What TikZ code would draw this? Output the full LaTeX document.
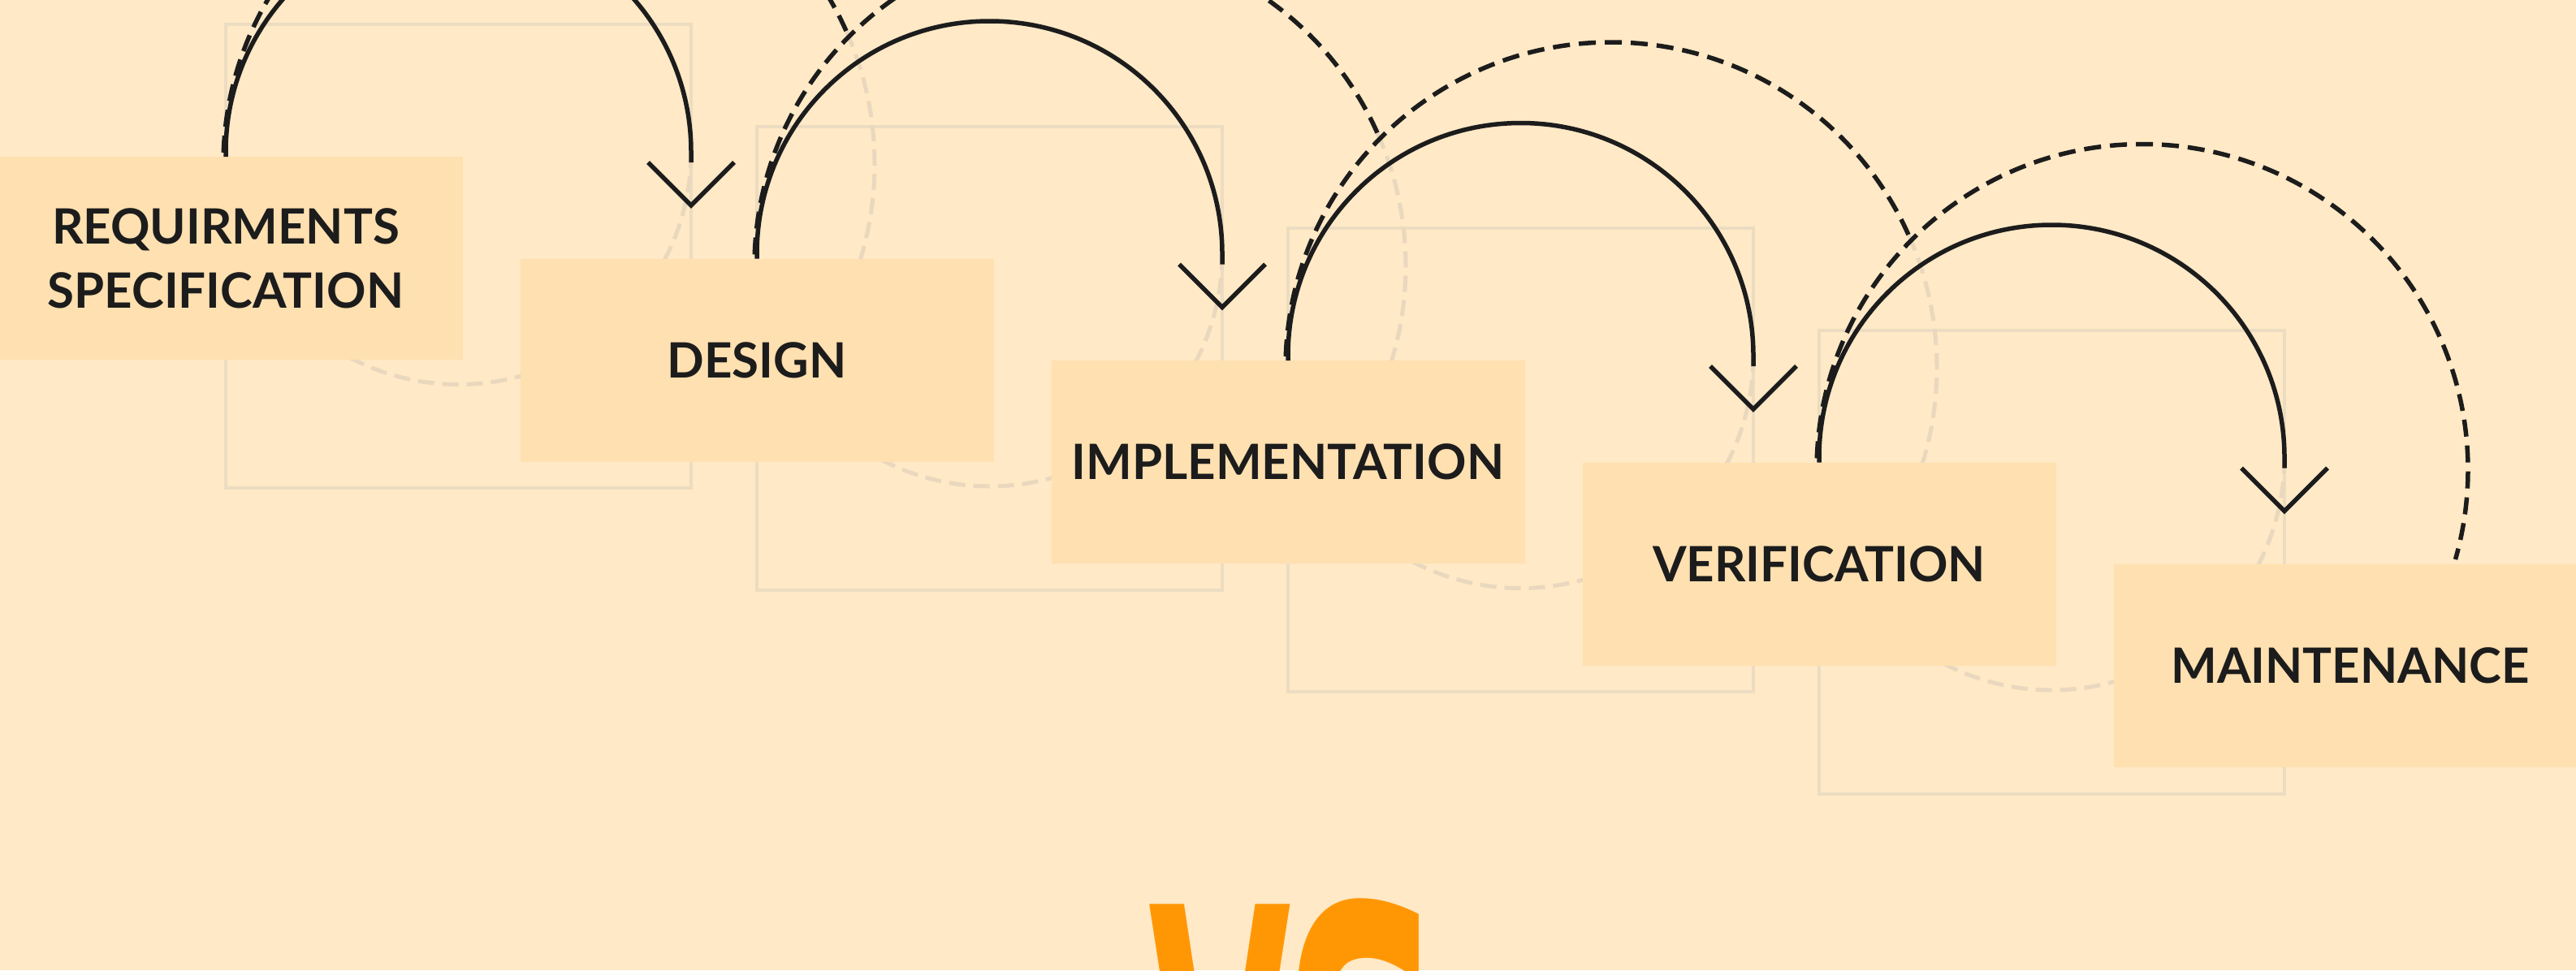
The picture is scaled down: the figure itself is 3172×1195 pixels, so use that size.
\documentclass[tikz,border=0pt]{standalone}
\usepackage{fontspec}
\usepackage{graphicx}
\setmainfont{Lato}
\newfontfamily\vsfont{DejaVu Sans}
\definecolor{bgc}{RGB}{255,233,198}
\definecolor{boxc}{RGB}{255,224,176}
\definecolor{sqc}{RGB}{236,220,193}
\definecolor{gdc}{RGB}{233,216,190}
\definecolor{inkc}{RGB}{28,28,28}
\definecolor{vsc}{RGB}{255,151,5}
\begin{document}
\begin{tikzpicture}[x=1pt,y=1pt,
  stage/.style={fill=boxc, draw=none, minimum width=583pt, minimum height=250pt,
    inner sep=0pt, outer sep=0pt, text=inkc, font=\bfseries\fontsize{60}{79}\selectfont},
  oneline/.style={text height=43pt, text depth=0pt},
  sq/.style={draw=sqc, line width=4pt},
  gdash/.style={draw=gdc, line width=5pt, dash pattern=on 20pt off 10pt},
  flow/.style={draw=inkc, line width=5.5pt, line join=miter},
  loopline/.style={draw=inkc, line width=5.5pt, dash pattern=on 21pt off 11pt},
]
\fill[bgc] (0,0) rectangle (3172,-1195);
\useasboundingbox (0,0) rectangle (3172,-1195);

% background squares
\foreach \k in {0,1,2,3}{
  \draw[sq] ({278+654*\k},{-30-125.5*\k}) rectangle ++(573,-571);
}
% grey dashed lower halves of the step circles
\foreach \k in {0,1,2,3}{
  \draw[gdash] ({851+654*\k},{-187-125.5*\k}) arc[start angle=0,end angle=-180,radius=286.5];
}
% grey dashed continuation of the feedback circles
\foreach \k in {0,1,2}{
  \draw[gdash] ([shift={({676+654*\k},{-202-125.5*\k})}]24:401) arc[start angle=24,end angle=-20,radius=401];
}

% stage boxes
\node[stage, align=center] (b0) at (278,-318) {REQUIRMENTS\\SPECIFICATION};
\node[stage, oneline] (b1) at (932,-443.5) {DESIGN};
\node[stage, oneline] (b2) at (1586,-569) {IMPLEMENTATION};
\node[stage, oneline] (b3) at (2240,-694.5) {VERIFICATION};
\node[stage, oneline] (b4) at (2894,-820) {MAINTENANCE};

% centres of the dashed feedback circles
\foreach \k in {0,1,2,3}{
  \path (b\k.north) ++(398,-9) coordinate (c\k);
}

% dashed feedback arcs
\foreach \k in {0,1,2}{
  \draw[loopline] ([shift={(c\k)}]178:401) arc[start angle=178,end angle=24,radius=401];
}
\draw[loopline] ([shift={(c3)}]178:401) arc[start angle=178,end angle=-16,radius=401];

% solid step arcs with open chevron heads
\foreach \k in {0,1,2,3}{
  \draw[flow] (b\k.north) -- ++(0,6) arc[start angle=180,end angle=0,radius=286.5]
    -- ++(0,-13) coordinate (w\k) ++(-53,0) -- ++(53,-53) -- ++(53,53);
}

% VS
\node[text=vsc, font=\vsfont\bfseries\fontsize{540}{540}\selectfont, xscale=0.42,
  inner sep=0pt, anchor=base west] (vs) at (1414,-1507) {V\kern-28pt\scalebox{1.25}[1]{S}};
\end{tikzpicture}
\end{document}
